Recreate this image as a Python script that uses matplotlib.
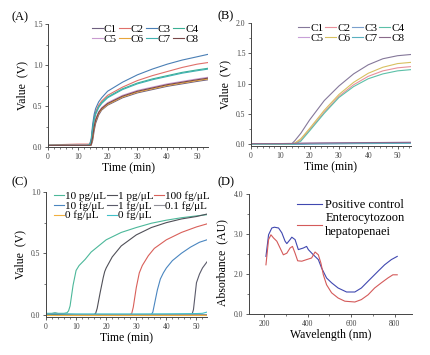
import numpy as np
import matplotlib.pyplot as plt
from matplotlib.ticker import MultipleLocator

plt.rcParams['font.family'] = ['Liberation Serif', 'DejaVu Serif']

# ---------------- (A) ----------------
a_labels = ["C1", "C2", "C3", "C4", "C5", "C6", "C7", "C8"]
a_colors = ["#6e5f7f", "#e0706a", "#4a7fb5", "#3aaf93", "#c99bd0", "#e8a53a", "#3fb0b0", "#7a4848"]
a_t = [0, 5, 10, 13, 14, 14.5, 15, 15.5, 16, 17, 18, 20, 25, 30, 35, 40, 45, 50, 53.7]
a_vals = [
    [0.02, 0.02, 0.02, 0.02, 0.02, 0.02, 0.08, 0.20, 0.29, 0.39, 0.45, 0.51, 0.60, 0.66, 0.70, 0.74, 0.77, 0.80, 0.82],
    [0.02, 0.03, 0.035, 0.035, 0.035, 0.08, 0.24, 0.36, 0.43, 0.51, 0.56, 0.63, 0.73, 0.81, 0.87, 0.92, 0.97, 1.01, 1.03],
    [0.02, 0.02, 0.02, 0.02, 0.03, 0.10, 0.28, 0.40, 0.47, 0.55, 0.60, 0.68, 0.79, 0.88, 0.95, 1.01, 1.06, 1.10, 1.13],
    [0.02, 0.02, 0.02, 0.02, 0.03, 0.07, 0.22, 0.34, 0.41, 0.49, 0.54, 0.61, 0.71, 0.78, 0.83, 0.87, 0.91, 0.94, 0.96],
    [0.02, 0.02, 0.025, 0.025, 0.025, 0.04, 0.14, 0.27, 0.35, 0.43, 0.48, 0.54, 0.63, 0.69, 0.73, 0.77, 0.80, 0.83, 0.85],
    [0.02, 0.02, 0.02, 0.02, 0.02, 0.03, 0.11, 0.24, 0.32, 0.41, 0.46, 0.52, 0.61, 0.67, 0.71, 0.75, 0.78, 0.81, 0.83],
    [0.02, 0.02, 0.02, 0.02, 0.03, 0.07, 0.21, 0.33, 0.40, 0.48, 0.53, 0.60, 0.70, 0.77, 0.82, 0.86, 0.90, 0.93, 0.95],
    [0.02, 0.02, 0.02, 0.02, 0.02, 0.03, 0.12, 0.25, 0.33, 0.42, 0.47, 0.53, 0.62, 0.68, 0.72, 0.76, 0.79, 0.82, 0.84],
]

# ---------------- (B) ----------------
b_labels = ["C1", "C2", "C3", "C4", "C5", "C6", "C7", "C8"]
b_colors = ["#85789a", "#e8909a", "#7aa0cc", "#5cc0a8", "#c8a0d8", "#d8c060", "#5ab0c0", "#8a6a8a"]
b_t = [0, 5, 10, 13, 14, 15, 17, 20, 25, 30, 35, 40, 45, 50, 54.5]
b_vals = [
    [0, 0, 0, 0, 0.01, 0.06, 0.18, 0.40, 0.72, 0.96, 1.16, 1.31, 1.41, 1.46, 1.48],
    [0, 0, 0, 0, 0, 0.01, 0.07, 0.24, 0.53, 0.79, 0.98, 1.12, 1.21, 1.26, 1.28],
    [0, 0, 0, 0, 0, 0, 0, 0.005, 0.008, 0.01, 0.012, 0.015, 0.016, 0.018, 0.02],
    [0, 0, 0, 0, 0, 0, 0.05, 0.22, 0.51, 0.77, 0.95, 1.08, 1.16, 1.21, 1.23],
    [0.0, 0.0, 0.005, 0.01, 0.01, 0.012, 0.015, 0.018, 0.02, 0.022, 0.025, 0.027, 0.028, 0.03, 0.03],
    [0, 0, 0, 0, 0.005, 0.02, 0.09, 0.26, 0.56, 0.82, 1.02, 1.17, 1.27, 1.33, 1.35],
    [0, 0, 0, 0, 0, 0, 0, 0.003, 0.005, 0.007, 0.009, 0.01, 0.012, 0.013, 0.015],
    [0.01, 0.01, 0.01, 0.012, 0.012, 0.014, 0.015, 0.017, 0.02, 0.022, 0.024, 0.026, 0.027, 0.028, 0.03],
]

# ---------------- (C) ----------------
c_labels = ["10 pg/μL", "1 pg/μL", "100 fg/μL", "10 fg/μL", "1 fg/μL", "0.1 fg/μL", "0 fg/μL", "0 fg/μL"]
c_colors = ["#4cb89a", "#505058", "#d9605a", "#4a86c0", "#5a5a6a", "#909098", "#f0b040", "#40c0c8"]
c_t = [
    [0, 2, 3, 4, 6, 7, 7.5, 8, 9, 10, 11, 13, 15, 20, 25, 30, 35, 40, 45, 50, 53.5],
    [0, 5, 10, 16, 16.5, 17, 18, 19, 19.5, 20, 22, 25, 30, 35, 40, 45, 50, 53.5],
    [0, 10, 20, 28, 28.5, 29, 30, 31, 32, 34, 36, 40, 45, 50, 53.5],
    [0, 10, 20, 30, 35, 35.5, 36, 37, 38, 39, 40, 42, 45, 48, 51, 53.5],
    [0, 10, 20, 30, 40, 48.5, 49, 49.5, 50, 51, 52, 53.5],
    [0, 3, 6, 10, 20, 30, 40, 50, 53.5],
    [0, 3, 6, 10, 20, 30, 40, 50, 53.5],
    [0, 3, 6, 10, 20, 30, 40, 50, 52, 53.5],
]
c_vals = [
    [0.01, 0.01, 0.015, 0.01, 0.01, 0.015, 0.03, 0.07, 0.24, 0.36, 0.40, 0.45, 0.51, 0.61, 0.67, 0.71, 0.745, 0.77, 0.79, 0.805, 0.815],
    [0.0, 0.0, 0.0, 0.0, 0.01, 0.05, 0.18, 0.30, 0.35, 0.38, 0.47, 0.56, 0.65, 0.71, 0.75, 0.78, 0.80, 0.82],
    [0.0, 0.0, 0.0, 0.0, 0.01, 0.06, 0.22, 0.34, 0.40, 0.48, 0.54, 0.61, 0.67, 0.715, 0.74],
    [0.0, 0.0, 0.0, 0.0, 0.0, 0.02, 0.08, 0.20, 0.29, 0.34, 0.38, 0.44, 0.50, 0.55, 0.59, 0.61],
    [0.0, 0.0, 0.0, 0.0, 0.0, 0.0, 0.04, 0.15, 0.26, 0.33, 0.38, 0.43],
    [0.005, 0.01, 0.005, 0.0, 0.0, 0.0, 0.0, 0.0, 0.0],
    [-0.005, -0.005, -0.005, -0.005, -0.005, -0.005, -0.005, -0.005, -0.005],
    [0.005, 0.005, 0.005, 0.005, 0.005, 0.005, 0.006, 0.008, 0.01, 0.02],
]

# ---------------- (D) ----------------
d_wl_pos = [208, 220, 235, 247, 266, 281, 296, 304, 319, 327, 342, 357, 380, 395,
            403, 426, 449, 464, 487, 510, 540, 579, 617, 647, 678, 724, 754, 785, 812]
d_pos = [2.44, 2.98, 3.15, 3.17, 3.15, 3.03, 2.82, 2.76, 2.86, 2.92, 2.86, 2.61, 2.65, 2.69,
         2.61, 2.48, 2.36, 2.15, 1.90, 1.78, 1.65, 1.55, 1.55, 1.65, 1.82, 2.07, 2.23, 2.36, 2.44]
d_wl_neg = [208, 220, 231, 243, 258, 273, 288, 304, 319, 330, 342, 354, 373, 395,
            418, 434, 449, 461, 472, 487, 510, 540, 571, 617, 647, 678, 708, 739, 769, 792, 812]
d_neg = [2.23, 2.86, 2.98, 2.90, 2.82, 2.65, 2.48, 2.52, 2.65, 2.69, 2.52, 2.33, 2.32, 2.36,
         2.40, 2.55, 2.48, 2.27, 1.98, 1.73, 1.53, 1.40, 1.32, 1.30, 1.36, 1.48, 1.65, 1.78, 1.90, 1.98, 1.98]
d_labels = ["Positive control", "Enterocytozoon\nhepatopenaei"]
d_colors = ["#4048b0", "#d45a5a"]
d_yticks = [1, 2, 3, 4]
d_yticklabels = ["0.0", "2.0", "3.0", "4.0"]

W, H = 430, 355
fig = plt.figure(figsize=(W / 100, H / 100), dpi=100)


def px_axes(x0, y0, x1, y1):
    return fig.add_axes([x0 / W, 1 - y1 / H, (x1 - x0) / W, (y1 - y0) / H])


def style(ax):
    for s in ["top", "right"]:
        ax.spines[s].set_visible(False)
    for s in ["left", "bottom"]:
        ax.spines[s].set_color("#444444")
        ax.spines[s].set_linewidth(0.7)
    ax.tick_params(which="major", direction="out", length=2.5, width=0.6,
                   labelsize=5.5, colors="#444444", pad=1.5)
    ax.tick_params(which="minor", direction="out", length=1.5, width=0.5, colors="#444444")


def row_order(ax, ncol):
    # legend fills column by column, reorder so entries read row by row
    h, l = ax.get_legend_handles_labels()
    n = len(h)
    nrow = -(-n // ncol)
    idx = []
    for c in range(ncol):
        for r in range(nrow):
            k = r * ncol + c
            if k < n:
                idx.append(k)
    return [h[i] for i in idx], [l[i] for i in idx]


lw = 0.8
leg_kw = dict(fontsize=8, frameon=False, handlelength=1.0, handletextpad=0.1,
              columnspacing=0.15, labelspacing=0.0, borderpad=0.1)

# (A)
axA = px_axes(48, 24, 208, 147)
for lab, col, v in zip(a_labels, a_colors, a_vals):
    axA.plot(a_t, v, color=col, lw=lw, label=lab)
axA.set_xlim(0, 53.7)
axA.set_ylim(0, 1.5)
axA.xaxis.set_major_locator(MultipleLocator(10))
axA.xaxis.set_minor_locator(MultipleLocator(2))
axA.yaxis.set_major_locator(MultipleLocator(0.5))
axA.yaxis.set_minor_locator(MultipleLocator(0.25))
style(axA)
axA.set_xlabel("Time (min)", fontsize=8.5, labelpad=1)
axA.set_ylabel("Value  (V)", fontsize=8.5, labelpad=3)
h, l = row_order(axA, 4)
axA.legend(h, l, ncol=4, loc="upper right", bbox_to_anchor=(0.98, 1.05), **leg_kw)
fig.text(12 / W, 1 - 17 / H, "(A)", fontsize=9, va="center")

# (B)
axB = px_axes(251, 23, 411, 146)
for lab, col, v in zip(b_labels, b_colors, b_vals):
    axB.plot(b_t, v, color=col, lw=lw, label=lab)
axB.set_xlim(0, 54.6)
axB.set_ylim(-0.03, 2.0)
axB.xaxis.set_major_locator(MultipleLocator(10))
axB.xaxis.set_minor_locator(MultipleLocator(2))
axB.yaxis.set_major_locator(MultipleLocator(0.5))
axB.yaxis.set_minor_locator(MultipleLocator(0.25))
style(axB)
axB.set_xlabel("Time (min)", fontsize=8.5, labelpad=1)
axB.set_ylabel("Value  (V)", fontsize=8.5, labelpad=3)
h, l = row_order(axB, 4)
axB.legend(h, l, ncol=4, loc="upper right", bbox_to_anchor=(1.0, 1.05), **leg_kw)
fig.text(217 / W, 1 - 16 / H, "(B)", fontsize=9, va="center")

# (C)
axC = px_axes(46, 192, 207, 317)
for lab, col, t, v in zip(c_labels, c_colors, c_t, c_vals):
    axC.plot(t, v, color=col, lw=lw, label=lab)
axC.set_xlim(0, 53.5)
axC.set_ylim(-0.02, 1.0)
axC.xaxis.set_major_locator(MultipleLocator(10))
axC.xaxis.set_minor_locator(MultipleLocator(2))
axC.yaxis.set_major_locator(MultipleLocator(0.5))
axC.yaxis.set_minor_locator(MultipleLocator(0.25))
style(axC)
axC.set_xlabel("Time (min)", fontsize=8.5, labelpad=1)
axC.set_ylabel("Value  (V)", fontsize=8.5, labelpad=3)
h, l = row_order(axC, 3)
axC.legend(h, l, ncol=3, loc="upper left", bbox_to_anchor=(0.01, 1.06),
           **dict(leg_kw, handlelength=0.9, columnspacing=0.05))
fig.text(12 / W, 1 - 182 / H, "(C)", fontsize=9, va="center")

# (D)
axD = px_axes(249, 194, 412, 314)
axD.plot(d_wl_pos, d_pos, color=d_colors[0], lw=lw, label=d_labels[0])
axD.plot(d_wl_neg, d_neg, color=d_colors[1], lw=lw, label=d_labels[1])
axD.set_xlim(130, 880)
axD.set_ylim(1, 4)
axD.set_xticks([200, 400, 600, 800])
axD.xaxis.set_minor_locator(MultipleLocator(100))
axD.set_yticks(d_yticks)
axD.set_yticklabels(d_yticklabels)
axD.yaxis.set_minor_locator(MultipleLocator(0.5))
style(axD)
axD.set_xlabel("Wavelength (nm)", fontsize=8.5, labelpad=1)
axD.set_ylabel("Absorbance  (AU)", fontsize=8.5)
axD.yaxis.set_label_coords(-0.13, 0.43)
axD.legend(loc="upper right", bbox_to_anchor=(1.0, 1.02), fontsize=9, frameon=False,
           handlelength=2.0, handletextpad=0.3, labelspacing=0.1, borderpad=0.1)
fig.text(217 / W, 1 - 182 / H, "(D)", fontsize=9, va="center")

fig.savefig("out.png", dpi=100)
